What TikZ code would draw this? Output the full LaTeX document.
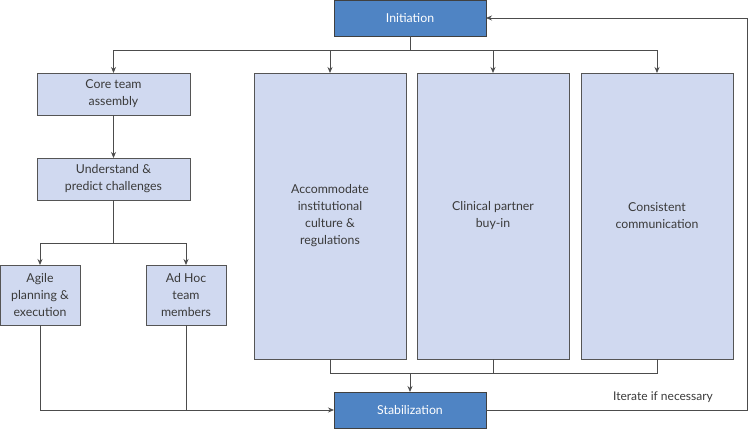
\documentclass[tikz,border=0pt]{standalone}
\usepackage{fontspec}
\setmainfont{Lato}
\usetikzlibrary{arrows.meta}
\definecolor{darkfill}{HTML}{4F84C4}
\definecolor{lightfill}{HTML}{D0D9F0}
\definecolor{edge}{HTML}{555555}
\definecolor{txt}{HTML}{3A3A3A}
\begin{document}
\begin{tikzpicture}[x=1pt,y=-1pt,
  base/.style={rectangle,draw=edge,line width=0.9pt,inner sep=2pt,outer sep=0pt,align=center,font=\fontsize{12.3}{17}\selectfont},
  darkbox/.style={base,fill=darkfill,draw=black!75,text=white,minimum width=152pt,minimum height=36pt},
  lightbox/.style={base,fill=lightfill,text=txt},
  conn/.style={draw=black!70,line width=0.8pt},
  arr/.style={conn,-{Stealth[length=6pt,width=5pt]}}]
\useasboundingbox (0,0) rectangle (749,429);
\node[darkbox] (init) at (410,18) {Initiation};
\node[darkbox] (stab) at (410,410) {Stabilization};
\node[lightbox,minimum width=153pt,minimum height=42pt] (core) at (113.5,94) {Core team\\assembly};
\node[lightbox,minimum width=153pt,minimum height=42pt] (und) at (113.5,179) {Understand \&\\predict challenges};
\node[lightbox,minimum width=80pt,minimum height=60pt] (agile) at (40,295) {Agile\\planning \&\\execution};
\node[lightbox,minimum width=80pt,minimum height=60pt] (adhoc) at (186,295) {Ad Hoc\\team\\members};
\node[lightbox,minimum width=152pt,minimum height=286pt] (acc) at (330,216) {Accommodate\\institutional\\culture \&\\regulations};
\node[lightbox,minimum width=152pt,minimum height=286pt] (cli) at (493,216) {Clinical partner\\buy-in};
\node[lightbox,minimum width=152pt,minimum height=286pt] (cons) at (657,216) {Consistent\\communication};
\node[font=\fontsize{12}{14}\selectfont,text=txt] (iter) at (663,397) {Iterate if necessary};
% top split
\draw[arr] (init.south) -- ++(0,14) coordinate (sp) -| (core.north);
\draw[arr] (sp) -| (acc.north);
\draw[arr] (sp) -| (cli.north);
\draw[arr] (sp) -| (cons.north);
% left chain
\draw[arr] (core) -- (und);
\draw[arr] (und.south) -- ++(0,43) coordinate (sp2) -| (agile.north);
\draw[arr] (sp2) -| (adhoc.north);
\draw[arr] (agile.south) |- (stab.west);
\draw[conn] (adhoc.south) -- (adhoc.south |- stab.west);
% right merge
\draw[conn] (acc.south) -- ++(0,14) coordinate (m) -| (cons.south);
\draw[conn] (cli.south) -- (cli.south |- m);
\draw[arr] (stab.north |- m) -- (stab.north);
% feedback
\coordinate (fb) at (747,410);
\draw[arr] (stab.east) -- (fb) |- (init.east);
\end{tikzpicture}
\end{document}
